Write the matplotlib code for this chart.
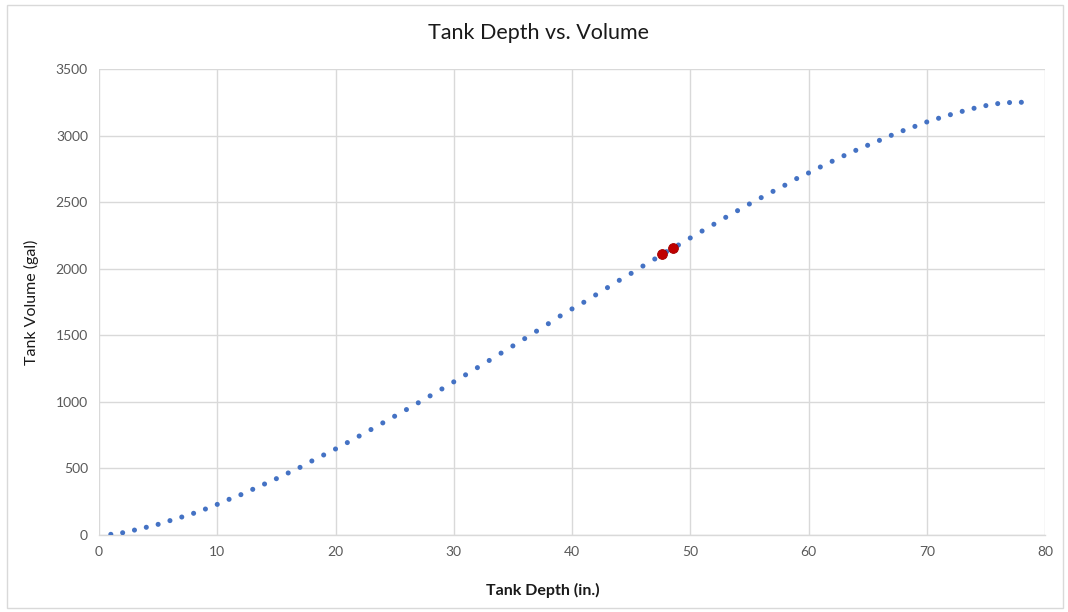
import matplotlib
matplotlib.use("Agg")
import matplotlib.pyplot as plt
from matplotlib.patches import Rectangle

plt.rcParams['font.family'] = ['Lato', 'DejaVu Sans']

# Tank depth (inches) and corresponding volume (gallons)
depth = list(range(1, 79))
volume = [5, 17, 37, 58, 80, 108, 135, 163, 195, 230,
          268, 303, 343, 383, 423, 466, 508, 556, 601, 646,
          694, 743, 792, 842, 892, 942, 993, 1045, 1097, 1150,
          1203, 1257, 1311, 1366, 1420, 1475, 1531, 1587, 1645, 1698,
          1748, 1803, 1858, 1913, 1965, 2020, 2073, 2128, 2178, 2231,
          2283, 2334, 2386, 2436, 2486, 2534, 2581, 2627, 2677, 2719,
          2764, 2807, 2849, 2889, 2927, 2964, 3002, 3037, 3069, 3102,
          3130, 3157, 3182, 3205, 3225, 3240, 3248, 3250]

# Highlighted measurement points
mark_depth = [47.6, 48.5]
mark_volume = [2108, 2152]

x_ticks = [0, 10, 20, 30, 40, 50, 60, 70, 80]
y_ticks = [0, 500, 1000, 1500, 2000, 2500, 3000, 3500]

W, H = 1068, 612
fig = plt.figure(figsize=(W / 100, H / 100), dpi=100)
fig.patch.set_facecolor('white')

# chart-area border
fig.add_artist(Rectangle((7 / W, 1 - 608 / H), (1063 - 7) / W, (608 - 5) / H,
                         transform=fig.transFigure, fill=False,
                         edgecolor='#D9D9D9', linewidth=1.0))

ax = fig.add_axes([99 / W, 1 - 535 / H, (1045 - 99) / W, (535 - 69) / H])
ax.set_xlim(0, 80)
ax.set_ylim(0, 3500)
ax.set_xticks(x_ticks)
ax.set_yticks(y_ticks)
ax.grid(True, color='#D9D9D9', linewidth=1.0)
ax.set_axisbelow(True)
for side in ['top', 'right', 'left']:
    ax.spines[side].set_visible(False)
ax.spines['bottom'].set_color('#D9D9D9')
ax.spines['bottom'].set_linewidth(1.0)
ax.tick_params(length=0, colors='#595959', labelsize=10, pad=8)

ax.scatter(depth, volume, s=13, color='#4472C4', edgecolors='none', zorder=3)
ax.scatter(mark_depth, mark_volume, s=50, color='#C00000',
           edgecolors='#A00000', linewidths=0.6, zorder=4)

fig.text(539 / W, 1 - 33 / H, 'Tank Depth vs. Volume', ha='center', va='center',
         fontsize=15.5, color='#1A1A1A')
fig.text(543 / W, 1 - 590 / H, 'Tank Depth (in.)', ha='center', va='center',
         fontsize=11.5, fontweight='bold', color='#1A1A1A')
fig.text(31 / W, 1 - 302 / H, 'Tank Volume (gal)', ha='center', va='center',
         rotation=90, fontsize=11.5, color='#1A1A1A')

fig.savefig('out.png', dpi=100)
